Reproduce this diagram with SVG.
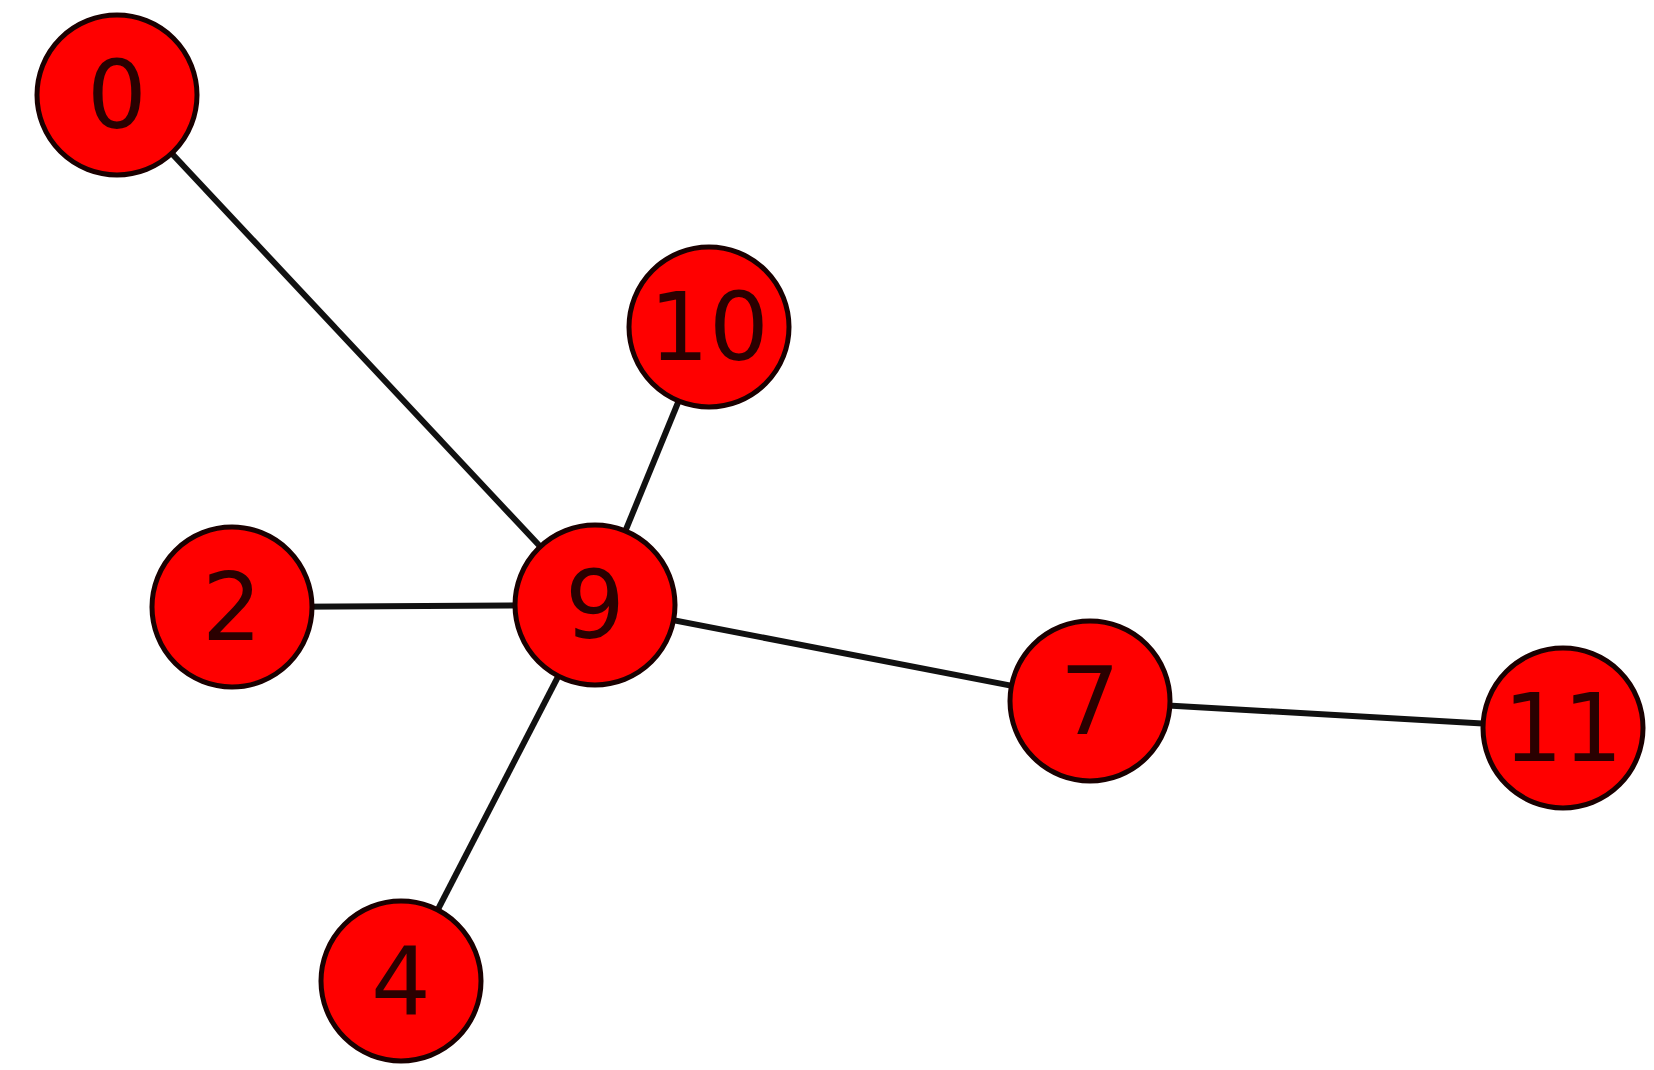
<svg xmlns="http://www.w3.org/2000/svg" width="1654" height="1070" viewBox="0 0 1654 1070">
<style>
.n circle{fill:#ff0000;stroke:#1a0000;stroke-width:5}
.n text{font-family:"DejaVu Sans",sans-serif;font-size:94px;fill:#2a0000;text-anchor:middle;dominant-baseline:central}
.e line{stroke:#111;stroke-width:6}
</style>
<rect width="1654" height="1070" fill="#fff"/>
<g id="edges" class="e">
<line x1="117" y1="95" x2="595" y2="605"/>
<line x1="709" y1="327" x2="595" y2="605"/>
<line x1="232" y1="607" x2="595" y2="605"/>
<line x1="401" y1="981" x2="595" y2="605"/>
<line x1="595" y1="605" x2="1090" y2="701"/>
<line x1="1090" y1="701" x2="1563" y2="728"/>
</g>
<g id="node0" class="n"><circle cx="117" cy="95" r="80"/><text x="117" y="95">0</text></g>
<g id="node10" class="n"><circle cx="709" cy="327" r="80"/><text x="709" y="327">10</text></g>
<g id="node2" class="n"><circle cx="232" cy="607" r="80"/><text x="232" y="607">2</text></g>
<g id="node9" class="n"><circle cx="595" cy="605" r="80"/><text x="595" y="605">9</text></g>
<g id="node7" class="n"><circle cx="1090" cy="701" r="80"/><text x="1090" y="701">7</text></g>
<g id="node11" class="n"><circle cx="1563" cy="728" r="80"/><text x="1563" y="728">11</text></g>
<g id="node4" class="n"><circle cx="401" cy="981" r="80"/><text x="401" y="981">4</text></g>
</svg>
